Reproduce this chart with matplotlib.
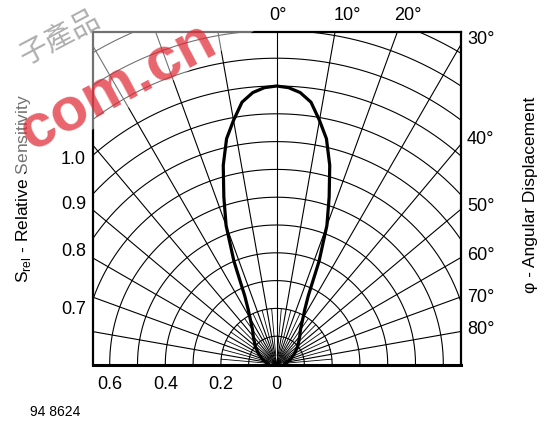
import numpy as np
import matplotlib
matplotlib.use('Agg')
import matplotlib.pyplot as plt
from matplotlib.patches import Polygon

plt.rcParams['font.family'] = ['Liberation Sans', 'DejaVu Sans']
plt.rcParams['mathtext.fontset'] = 'custom'
plt.rcParams['mathtext.rm'] = 'Liberation Sans'

# Relative sensitivity vs. angular displacement (one half, the lobe is symmetric)
phi_deg = [0, 2.5, 5, 7.5, 10, 12.5, 15, 17.5, 20, 22.5, 25, 27.5, 30,
           35, 40, 50, 60, 70, 80, 90]
s_rel = [1.0, 0.995, 0.98, 0.95, 0.89, 0.83, 0.74, 0.63, 0.53, 0.40, 0.27,
         0.22, 0.19, 0.15, 0.13, 0.10, 0.075, 0.055, 0.04, 0.03]

# grid
grid_radii = [0.1, 0.2, 0.3, 0.4, 0.5, 0.6, 0.7, 0.8, 0.9, 1.0, 1.1, 1.2, 1.3, 1.4]
spoke_angles = [-80, -70, -60, -50, -40, -30, -20, -10, 0, 10, 20, 30, 40, 50, 60, 70, 80]
inner_spoke_angles = [-85, -75, -65, -55, -45, -35, -25, -15, -5,
                      5, 15, 25, 35, 45, 55, 65, 75, 85]

# labels
x_ticks = [-0.6, -0.4, -0.2, 0]
x_tick_labels = ['0.6', '0.4', '0.2', '0']
left_labels = ['1.0', '0.9', '0.8', '0.7']
top_labels = ['0°', '10°', '20°']
right_labels = ['30°', '40°', '50°', '60°', '70°', '80°']

W, H = 547, 421
fig = plt.figure(figsize=(W / 100, H / 100), dpi=100)

# plot box in pixels: left 93, right 461, top 32, bottom 365 ; origin at (276.5, 364)
px_per_unit = 278.0
ax = fig.add_axes([92.7 / W, 1 - 365 / H, 368.3 / W, 333 / H])
ax.set_xlim((92.7 - 276.5) / px_per_unit, (461 - 276.5) / px_per_unit)
ax.set_ylim(-1 / px_per_unit, (364 - 32) / px_per_unit)

gkw = dict(color='black', lw=0.8, zorder=1)
t = np.radians(np.linspace(-90, 90, 361))
for r in grid_radii:
    ax.plot(r * np.sin(t), r * np.cos(t), **gkw)
for a in spoke_angles:
    ar = np.radians(a)
    ax.plot([0, 2 * np.sin(ar)], [0, 2 * np.cos(ar)], **gkw)
for a in inner_spoke_angles:
    ar = np.radians(a)
    ax.plot([0.03 * np.sin(ar), 0.2 * np.sin(ar)],
            [0.03 * np.cos(ar), 0.2 * np.cos(ar)], color='black', lw=0.6, zorder=1)

# sensitivity lobe, mirrored
phi = np.radians(np.array(phi_deg))
s = np.array(s_rel)
phi_full = np.concatenate([-phi[::-1], phi[1:]])
s_full = np.concatenate([s[::-1], s[1:]])
ax.plot(s_full * np.sin(phi_full), s_full * np.cos(phi_full),
        color='black', lw=2.3, zorder=3, solid_joinstyle='round')

for side, sp in ax.spines.items():
    sp.set_linewidth(1.6)
    sp.set_zorder(4)
ax.spines['bottom'].set_linewidth(2.2)

ax.set_xticks(x_ticks)
ax.set_xticklabels(x_tick_labels, fontsize=13)
ax.tick_params(axis='x', length=0, pad=8)
ax.set_yticks([])

def ftext(px, py, s, **kw):
    fig.text(px / W, 1 - py / H, s, **kw)

for lab, py in zip(left_labels, [160, 204, 252, 310]):
    ftext(86, py, lab, fontsize=13, ha='right', va='center')
for lab, px in zip(top_labels, [278, 347, 408]):
    ftext(px, 16, lab, fontsize=13, ha='center', va='center')
for lab, py in zip(right_labels, [40, 140, 206, 256, 298, 330]):
    ftext(467, py, lab, fontsize=13, ha='left', va='center')

ftext(24, 188, r'S$_{\rm rel}$ - Relative Sensitivity', fontsize=12.5,
      rotation=90, ha='center', va='center')
ftext(531, 195, 'φ - Angular Displacement', fontsize=12.5,
      rotation=90, ha='center', va='center')
ftext(30, 412, '94 8624', fontsize=10, ha='left', va='center')

# watermark of the source site (faded patch + text)
fade = [(0, 0), (262, 0), (254, 31), (92, 130), (24, 173), (0, 188)]
fig.patches.append(Polygon([(x / W, 1 - y / H) for x, y in fade], closed=True,
                           transform=fig.transFigure, facecolor='white',
                           edgecolor='none', alpha=0.45, zorder=5))
ftext(60, 38, '子產品', fontsize=21, rotation=28, color='#9a9a9a', alpha=0.8,
      family=['Noto Sans CJK TC'], ha='center', va='center', zorder=6)
ftext(118, 88, 'com.cn', fontsize=44, fontweight='bold', rotation=28,
      color='#e02330', alpha=0.7, ha='center', va='center', zorder=6)

fig.savefig('out.png', dpi=100)
